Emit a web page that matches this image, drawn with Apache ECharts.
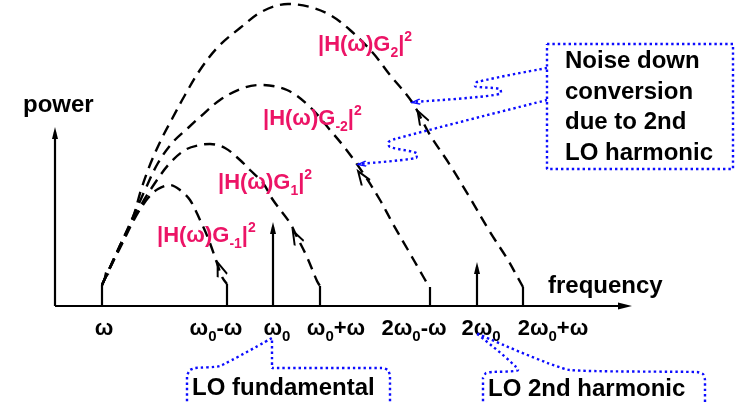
<!DOCTYPE html>
<html><head><meta charset="utf-8">
<script src="https://cdn.jsdelivr.net/npm/echarts@6/dist/echarts.min.js"></script>
<style>html,body{margin:0;padding:0;background:#fff}#c{width:735px;height:402px}</style>
</head><body><div id="c"></div>
<script>
// Schematic units: frequency (x) and power (y), 1 unit = 1/10 of the drawn grid step
const tickPos = [4.9, 16.1, 22.2, 28.1, 35.9, 42.6, 49.8];
const tickLabels = ['{b|ω}', '{b|ω}{s|0}{b|-ω}', '{b|ω}{s|0}', '{b|ω}{s|0}{b|+ω}',
                    '{b|2ω}{s|0}{b|-ω}', '{b|2ω}{s|0}', '{b|2ω}{s|0}{b|+ω}'];

// noise transfer curves
const arcGm1 = [[4.7,2.1],[5.5,3.8],[6.5,5.8],[8.0,8.8],[9.3,10.8],[10.3,11.7],[11.5,12.1],[12.5,11.6],[13.5,10.6],[14.5,8.6],[15.3,6.8],[16.2,4.3],[16.7,2.9],[17.2,2.2]];
const arcG1 = [[4.7,2.1],[6.3,5.6],[8.5,9.9],[10.2,12.6],[11.5,14.3],[13.0,15.6],[14.5,16.1],[15.5,16.2],[17.0,15.8],[18.5,14.6],[19.5,13.6],[20.8,12.3],[21.8,10.6],[23.5,8.3],[24.2,6.9],[25.2,4.9],[26.2,2.5],[26.5,2.0]];
const arcGm2 = [[4.7,2.1],[6.3,5.6],[7.8,8.9],[9.0,11.6],[10.3,14.3],[11.8,16.4],[13.3,17.8],[14.5,18.9],[16.5,20.6],[18.8,21.8],[20.5,22.1],[23.2,21.6],[25.5,19.9],[27.5,17.6],[29.0,15.8],[30.8,13.3],[32.5,10.6],[33.8,8.2],[35.3,5.6],[36.5,3.5],[37.2,2.3],[37.5,1.9]];
const arcG2 = [[4.7,2.1],[6.3,5.6],[7.8,8.9],[8.6,11.6],[9.3,13.6],[10.0,15.3],[10.8,17.0],[11.7,18.7],[13.0,21.1],[14.5,23.6],[16.3,25.9],[18.5,27.8],[20.8,29.5],[23.3,30.2],[25.5,29.9],[27.5,29.1],[29.5,27.6],[31.8,25.3],[33.5,23.1],[35.7,20.4],[37.5,17.1],[39.5,14.1],[41.5,10.8],[43.5,7.4],[45.3,4.6],[46.3,2.8],[46.8,1.9]];

// solid segments: axes, curve feet, LO tones
const axisSegs = [[[0,0],[57.2,0]], [[0,0],[0,17.4]]];
const footSegs = [[[4.7,0],[4.7,2.1]], [[17.2,0],[17.2,2.2]], [[26.5,0],[26.5,2.0]], [[37.5,0],[37.5,1.9]], [[46.8,0],[46.8,1.9]]];
const toneSegs = [[[21.8,0],[21.8,7.9]], [[42.2,0],[42.2,3.9]]];

// callouts
const calloutA = [[49.2,23.8],[42.2,22.4],[42.0,22.0],[44.5,21.7],[44.6,21.3],[35.7,20.4]];
const calloutB = [[49.2,20.6],[34.0,16.7],[33.3,16.3],[33.5,15.9],[36.2,15.2],[36.1,14.8],[30.3,14.2]];
const noiseBox = [[49.2,26.2],[67.8,26.2],[67.8,13.7],[49.2,13.7],[49.2,26.2]];
const loFundBox = [[13.2,-10.6],[13.2,-7.0],[13.5,-6.4],[14.0,-6.2],[16.5,-6.0],[21.7,-3.2],[21.7,-6.2],[32.7,-6.2],[33.3,-6.4],[33.5,-7.0],[33.5,-10.6]];
const lo2Box = [[42.8,-10.6],[42.8,-7.2],[43.1,-6.7],[43.7,-6.6],[46.3,-6.4],[42.1,-2.7],[51.5,-6.4],[64.2,-6.6],[64.8,-6.8],[65.0,-7.4],[65.0,-10.6]];

// arrowheads: [x, y, rotate, kind]
const heads = [
  [57.0,0,-90,'tri'], [0,17.3,0,'tri'], [21.8,7.8,0,'tri'], [42.2,3.8,0,'tri'], [5.0,2.85,154,'small'],
  [16.5,3.7,20,'chev'], [24.1,6.9,27,'chev'], [30.7,12.9,34,'chev'], [36.6,18.9,29,'chev'],
  [36.1,20.4,96,'blue'], [30.7,14.2,96,'blue']
];

// texts: [x, y, text, kind]
const texts = [
  [-3.2,20.1,'power','black'], [49.3,2.0,'frequency','black'],
  [51.0,19.84,'Noise down\nconversion\ndue to 2nd\nLO harmonic','box'],
  [13.7,-8.2,'LO fundamental','black'], [43.3,-8.3,'LO 2nd harmonic','black'],
  [26.3,26.1,'{m||H(ω)G}{s|2}{m||}{p|2}','mag'],
  [20.8,18.7,'{m||H(ω)G}{s|-2}{m||}{p|2}','mag'],
  [16.3,12.3,'{m||H(ω)G}{s|1}{m||}{p|2}','mag'],
  [10.2,7.0,'{m||H(ω)G}{s|-1}{m||}{p|2}','mag']
];

const BLUE = '#0c0cff', MAG = '#ec1466', FONT = '"Liberation Sans", Arial, sans-serif';
const chevPath = 'path://M0,12 L4.5,0 L9,12';

function arc(data){
  return {type:'line', data, smooth:0.35, symbol:'none', clip:false, silent:true,
    lineStyle:{color:'#000', width:2.4, type:[11,7]}, z:2};
}
function blueLine(data, smooth){
  return {type:'line', data, smooth, symbol:'none', clip:false, silent:true,
    lineStyle:{color:BLUE, width:2.4, type:[2.4,3]}, z:3};
}
const richMag = {
  m:{fontSize:22, fontWeight:'bold', color:MAG, fontFamily:FONT, lineHeight:30},
  s:{fontSize:14, fontWeight:'bold', color:MAG, fontFamily:FONT, lineHeight:14, verticalAlign:'bottom'},
  p:{fontSize:14, fontWeight:'bold', color:MAG, fontFamily:FONT, lineHeight:22, verticalAlign:'top'}
};
const blackTxt = {fontSize:24, fontWeight:'bold', color:'#000', fontFamily:FONT};

const option = {
  backgroundColor:'#fff', animation:false,
  grid:{left:55, right:0, top:0, bottom:96},
  xAxis:{type:'value', min:0, max:68, axisLine:{show:false}, axisTick:{show:false}, splitLine:{show:false},
    axisLabel:{customValues:tickPos, margin:8, hideOverlap:false,
      formatter:(v)=>{let i=tickPos.indexOf(v); if(i<0){let b=0;tickPos.forEach((p,k)=>{if(Math.abs(p-v)<Math.abs(tickPos[b]-v))b=k;});i=b;} return tickLabels[i];},
      rich:{
        b:{fontSize:22, fontWeight:'bold', color:'#000', fontFamily:FONT, lineHeight:30},
        s:{fontSize:15, fontWeight:'bold', color:'#000', fontFamily:FONT, lineHeight:15, verticalAlign:'bottom'}
      }}},
  yAxis:{type:'value', min:0, max:30.6, show:false},
  series:[
    arc(arcGm1), arc(arcG1), arc(arcGm2), arc(arcG2),
    {type:'lines', coordinateSystem:'cartesian2d', polyline:true, silent:true, clip:false, z:4,
      data:axisSegs.concat(footSegs, toneSegs).map(c=>({coords:c})),
      lineStyle:{color:'#000', width:2.2, opacity:1}},
    blueLine(calloutA, 0.3), blueLine(calloutB, 0.3),
    blueLine(noiseBox, false), blueLine(loFundBox, 0.15), blueLine(lo2Box, 0.15),
    {type:'scatter', silent:true, clip:false, z:6, itemStyle:{opacity:1},
      data:heads.map(h=>{
        const base={value:[h[0],h[1]], symbolRotate:h[2]};
        if(h[3]==='tri') return Object.assign(base,{symbol:'triangle', symbolSize:h[2]===-90?[7,14]:[6,12], itemStyle:{color:'#000', opacity:1}});
        if(h[3]==='small') return Object.assign(base,{symbol:'triangle', symbolSize:[5,10], itemStyle:{color:'#000', opacity:1}});
        if(h[3]==='chev') return Object.assign(base,{symbol:chevPath, symbolSize:[10,14], itemStyle:{color:'rgba(0,0,0,0)', borderColor:'#000', borderWidth:2.2, opacity:1}});
        return Object.assign(base,{symbol:chevPath, symbolSize:[5,8], itemStyle:{color:'rgba(0,0,0,0)', borderColor:BLUE, borderWidth:1.6, opacity:1}});
      })},
    {type:'scatter', silent:true, clip:false, z:8, symbolSize:0, itemStyle:{color:'#000', opacity:1},
      data:texts.map(t=>({value:[t[0],t[1]], name:t[2],
        label:t[3]==='mag' ? {rich:richMag} :
              t[3]==='box' ? {rich:{t:Object.assign({lineHeight:30.5}, blackTxt)}, formatter:'{t|Noise down}\n{t|conversion}\n{t|due to 2nd}\n{t|LO harmonic}'} :
              {rich:{t:blackTxt}, formatter:'{t|' + t[2] + '}'}})),
      label:{show:true, position:'right', distance:0, align:'left', verticalAlign:'middle', opacity:1,
        formatter:(p)=>p.name}}
  ]
};
const chart = echarts.init(document.getElementById('c'), null, {renderer:'canvas'});
chart.setOption(option);
</script></body></html>
